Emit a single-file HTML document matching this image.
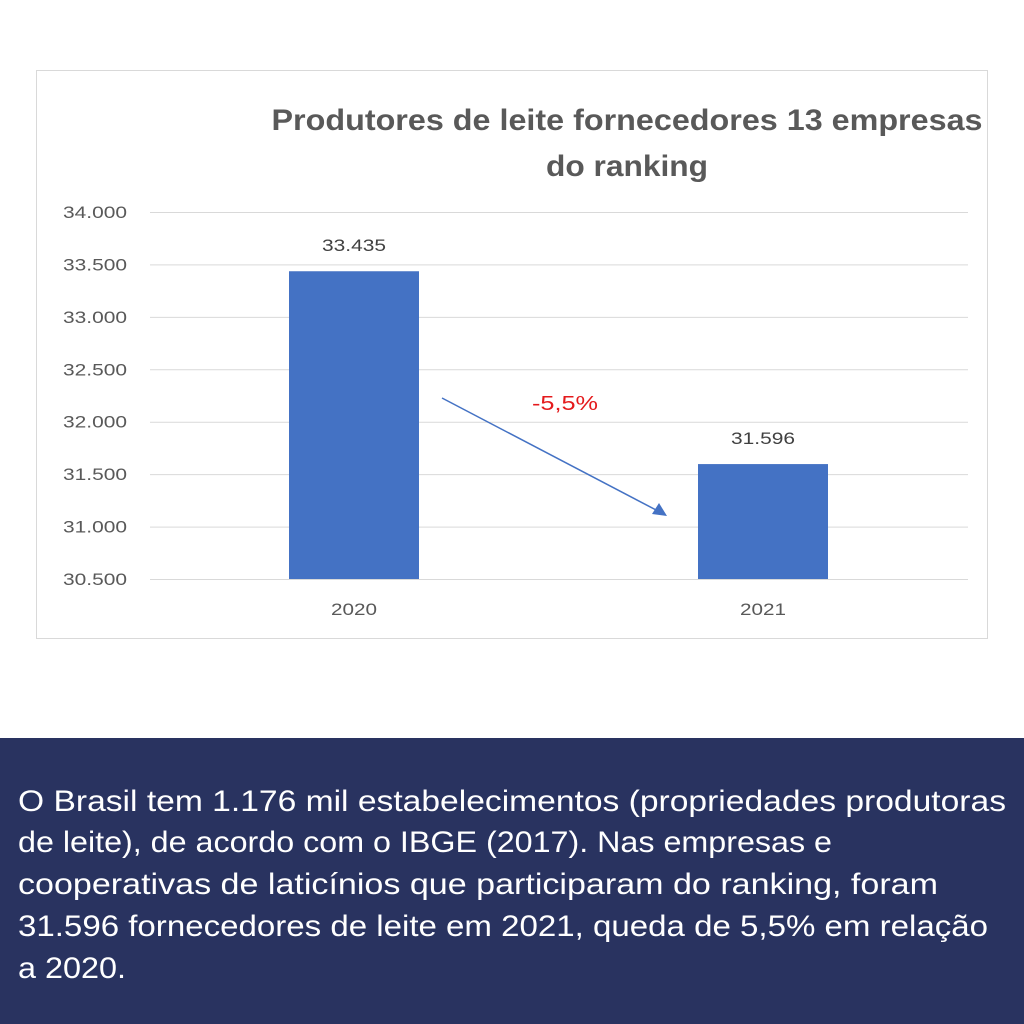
<!DOCTYPE html>
<html><head><meta charset="utf-8"><style>
html,body{margin:0;padding:0;background:#fff;}
svg{display:block;}
</style></head><body>
<svg id="c" width="1024" height="1024" viewBox="0 0 1024 1024" xmlns="http://www.w3.org/2000/svg">
<rect x="0" y="0" width="1024" height="1024" fill="#fff"/>
<rect x="36.5" y="70.5" width="951" height="568" fill="#fff" stroke="#d9d9d9"/>
<g font-family="Liberation Sans, sans-serif" font-weight="bold" font-size="30" fill="#595959" text-anchor="middle">
<text x="627" y="130" textLength="711" lengthAdjust="spacingAndGlyphs">Produtores de leite fornecedores 13 empresas</text>
<text x="627" y="176" textLength="162" lengthAdjust="spacingAndGlyphs">do ranking</text>
</g>
<g id="grid"></g><g id="bars"></g><g id="labels"></g>
<line x1="442" y1="398" x2="658" y2="511" stroke="#4472c4" stroke-width="1.5"/>
<polygon points="667,516 652,514 659,503" fill="#4472c4"/>
<text x="565" y="410" font-family="Liberation Sans, sans-serif" font-size="20" fill="#e41a1c" text-anchor="middle" textLength="66" lengthAdjust="spacingAndGlyphs">-5,5%</text>
<rect x="0" y="738" width="1024" height="286" fill="#293360"/>
<g font-family="Liberation Sans, sans-serif" font-size="30" fill="#fff">
<text x="18" y="811" textLength="988" lengthAdjust="spacingAndGlyphs">O Brasil tem 1.176 mil estabelecimentos (propriedades produtoras</text>
<text x="18" y="852" textLength="814" lengthAdjust="spacingAndGlyphs">de leite), de acordo com o IBGE (2017). Nas empresas e</text>
<text x="18" y="894" textLength="920" lengthAdjust="spacingAndGlyphs">cooperativas de laticínios que participaram do ranking, foram</text>
<text x="18" y="936" textLength="970" lengthAdjust="spacingAndGlyphs">31.596 fornecedores de leite em 2021, queda de 5,5% em relação</text>
<text x="18" y="978" textLength="108" lengthAdjust="spacingAndGlyphs">a 2020.</text>
</g>
</svg>
<script>
const categories=["2020","2021"];
const values=[33435,31596];
const valueLabels=["33.435","31.596"];
const ticks=[30500,31000,31500,32000,32500,33000,33500,34000];
const tickLabels=["30.500","31.000","31.500","32.000","32.500","33.000","33.500","34.000"];
const NS="http://www.w3.org/2000/svg";
const y0=579,y1=212,vmin=30500,vmax=34000;
function yS(v){return y0-(v-vmin)/(vmax-vmin)*(y0-y1);}
const px0=150,px1=968,bw=130;
function xC(i){return 354+i*409;}
function mk(t,a,p){const e=document.createElementNS(NS,t);for(const k in a)e.setAttribute(k,a[k]);p.appendChild(e);return e;}
const G=document.getElementById('grid'),B=document.getElementById('bars'),L=document.getElementById('labels');
ticks.forEach((t,i)=>{
 const l=mk('line',{x1:px0,x2:px1,y1:yS(t)+0.5,y2:yS(t)+0.5,stroke:'#d9d9d9','stroke-width':1},G);
 
 
 const tx=mk('text',{x:127,y:yS(t)+6,'text-anchor':'end','font-family':'Liberation Sans, sans-serif','font-size':17,fill:'#595959',textLength:64,lengthAdjust:'spacingAndGlyphs'},G);
 tx.textContent=tickLabels[i];
 
 
});
categories.forEach((c,i)=>{
 const r=mk('rect',{x:xC(i)-bw/2,y:yS(values[i]),width:bw,height:y0-yS(values[i]),fill:'#4472c4'},B);
 
 
 const v=mk('text',{x:xC(i),y:yS(values[i])-20,'text-anchor':'middle','font-family':'Liberation Sans, sans-serif','font-size':17,fill:'#404040',textLength:64,lengthAdjust:'spacingAndGlyphs'},L);
 v.textContent=valueLabels[i];
 
 
 const x=mk('text',{x:xC(i),y:615,'text-anchor':'middle','font-family':'Liberation Sans, sans-serif','font-size':17,fill:'#595959',textLength:46,lengthAdjust:'spacingAndGlyphs'},L);
 x.textContent=c;
 
 
});
</script>
</body></html>
